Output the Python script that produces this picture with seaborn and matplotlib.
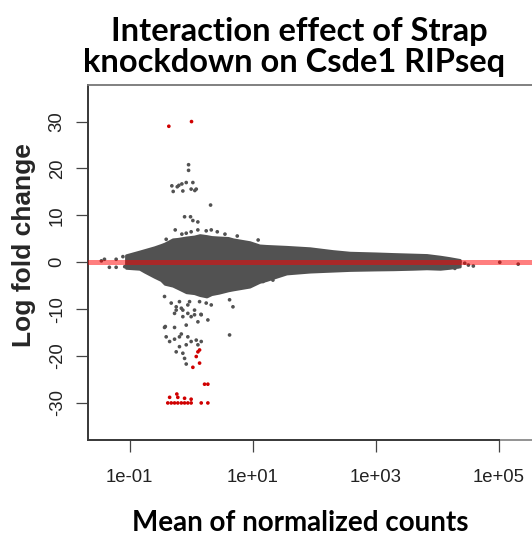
import numpy as np
import pandas as pd
import matplotlib
matplotlib.use("Agg")
import matplotlib.pyplot as plt
from matplotlib.patches import Rectangle
import seaborn as sns

# ================= DATA =================
# dense bulk of genes: envelope of the grey cloud (log10 of mean counts)
cloud_log10_mean = [-1.06, -0.95, -0.84, -0.76, -0.60, -0.49, -0.43, -0.30, -0.22, -0.08,
                    0.05, 0.14, 0.25, 0.33, 0.45, 0.60, 0.68, 0.95, 1.11, 1.22,
                    1.55, 1.93, 2.30, 2.58, 3.00, 3.29, 3.60, 3.83, 4.05, 4.20, 4.37]
cloud_upper = [1.5, 1.9, 2.3, 2.6, 3.2, 3.7, 4.0, 4.9, 5.0, 5.3,
               5.5, 5.8, 5.6, 5.4, 5.3, 5.2, 4.9, 4.3, 3.6, 3.5,
               3.3, 3.0, 2.4, 2.05, 1.9, 1.77, 1.65, 1.56, 1.2, 0.9, 0.5]
cloud_lower = [-1.2, -1.3, -1.4, -2.0, -3.1, -3.8, -4.6, -5.0, -5.5, -6.4,
               -6.6, -7.0, -7.3, -6.8, -6.5, -6.0, -5.8, -5.2, -4.2, -3.8,
               -2.4, -2.0, -1.8, -1.65, -1.55, -1.5, -1.4, -1.3, -1.4, -1.2, -0.9]

# non-significant genes outside the bulk
grey_log10_mean = [-0.042, -0.042, -0.314, -0.226, -0.151, -0.08, 0.028, -0.292, -0.135, 0.0,
                   0.083, -0.20, 0.06, 0.316, -0.107, -0.01, 0.028, 0.109, -0.259, -0.151,
                   -0.08, 0.0, 0.109, 0.245, 0.327, 0.425, -0.406, 0.55, 0.75, 1.09,
                   -0.433, -0.324, -0.19, -0.026, 0.137, 0.245, -0.243, -0.16, -0.054, 0.327,
                   -0.243, -0.135, 0.055, -0.054, -0.27, 0.055, 0.164, 0.16, -0.135, 0.0,
                   0.272, 0.11, -0.433, -0.27, -0.08, -0.42, 0.625, -0.406, -0.35, -0.27,
                   -0.19, -0.16, -0.054, 0.0, 0.083, 0.164, 0.11, -0.08, -0.19, -0.243,
                   -0.135, -0.107, -0.08, 0.625, 0.68, 1.17, 1.33,
                   -1.46, -1.41, -1.33, -1.22, -1.22, -1.11, -1.08,
                   4.29, 4.34, 4.37, 4.45, 4.51, 4.59, 5.02, 5.32]
grey_lfc = [20.8, 19.6, 16.3, 16.1, 16.7, 17.0, 17.0, 15.1, 15.2, 15.6,
            15.6, 16.4, 15.3, 12.2, 9.7, 9.7, 8.9, 8.6, 6.9, 6.0,
            6.2, 6.5, 6.9, 6.7, 6.9, 6.5, 4.9, 6.0, 5.6, 4.75,
            -7.3, -8.7, -8.4, -8.4, -8.4, -8.7, -9.5, -9.8, -9.1, -9.1,
            -10.2, -10.2, -10.2, -10.9, -10.9, -11.2, -11.2, -11.1, -11.6, -11.6,
            -12.3, -12.7, -13.9, -13.9, -13.4, -13.7, -15.5, -15.9, -16.9, -16.4,
            -15.9, -15.3, -15.9, -16.9, -16.6, -16.9, -17.6, -17.6, -18.0, -19.1,
            -19.4, -20.5, -21.7, -8.0, -9.5, -4.1, -3.8,
            0.3, 0.64, -1.07, 0.64, -1.07, 1.2, -0.94,
            -1.3, -0.9, 0.1, -0.2, -0.6, -0.8, 0.0, -0.4]

# significant genes (red)
red_log10_mean = [-0.363, 0.006,
                  0.11, 0.137, 0.083, 0.137, 0.028, 0.218, 0.272,
                  -0.38, -0.324, -0.27, -0.217, -0.16, -0.107, -0.054, 0.0, 0.164, 0.272,
                  -0.35, -0.233, -0.217, -0.107, 0.0]
red_lfc = [29.0, 30.0,
           -19.1, -18.7, -20.1, -21.5, -22.4, -26.0, -26.0,
           -30.0, -30.0, -30.0, -30.0, -30.0, -30.0, -30.0, -30.0, -30.0, -30.0,
           -28.8, -28.1, -28.8, -29.0, -29.2]

xticks = [1e-1, 1e1, 1e3, 1e5]
xtick_labels = ["1e-01", "1e+01", "1e+03", "1e+05"]
yticks = [-30, -20, -10, 0, 10, 20, 30]

GREY = "#525252"
RED = "#d00000"

# ================= PLOT =================
sns.set_style("ticks")
plt.rcParams["font.family"] = ["Liberation Sans", "DejaVu Sans"]

fig = plt.figure(figsize=(5.32, 5.4), dpi=100)
ax = fig.add_axes([88 / 532, 100 / 540, 457 / 532, 355 / 540])

cloud_x = np.power(10.0, cloud_log10_mean)
ax.fill_between(cloud_x, cloud_lower, cloud_upper, color=GREY,
                edgecolor=GREY, linewidth=2.0, zorder=1)

points = pd.DataFrame({
    "mean": np.power(10.0, grey_log10_mean + red_log10_mean),
    "lfc": grey_lfc + red_lfc,
    "sig": ["no"] * len(grey_lfc) + ["yes"] * len(red_lfc),
})
sns.scatterplot(data=points, x="mean", y="lfc", hue="sig",
                palette={"no": GREY, "yes": RED}, s=7, linewidth=0,
                legend=False, ax=ax, zorder=2)

ax.axhline(0, color="red", alpha=0.5, linewidth=3.6, zorder=4)

ax.set_xscale("log")
ax.set_xlim(0.0210, 5.7e5)
ax.set_ylim(-37.9, 37.8)
ax.set_xticks(xticks)
ax.set_xticklabels(xtick_labels)
ax.minorticks_off()
ax.set_yticks(yticks)
ax.set_yticklabels([str(v) for v in yticks], rotation=90, va="center")
ax.set_xlabel("")
ax.set_ylabel("")

ax.tick_params(axis="both", length=8.6, width=0.9, color="#444444",
               labelsize=13.3, labelcolor="#222222")
ax.tick_params(axis="x", pad=12.5)
ax.tick_params(axis="y", pad=7.5)

for side in ["top", "right"]:
    ax.spines[side].set_color("#808080")
    ax.spines[side].set_linewidth(1.2)
for side in ["left", "bottom"]:
    ax.spines[side].set_color("#3a3a3a")
    ax.spines[side].set_linewidth(1.4)
ax.spines["bottom"].set_bounds(0.0210, xticks[-1])
ax.add_patch(Rectangle((0, 0), 1, 1, transform=ax.transAxes, fill=False,
                       edgecolor="#808080", linewidth=1.2, zorder=0.5,
                       clip_on=False))

title_font = dict(family=["Lato", "DejaVu Sans"], weight="bold", color="black")
fig.text(299 / 532, 1 - 41 / 540, "Interaction effect of Strap", ha="center",
         va="baseline", fontsize=23.5, **title_font)
fig.text(294 / 532, 1 - 72 / 540, "knockdown on Csde1 RIPseq", ha="center",
         va="baseline", fontsize=23.5, **title_font)
fig.text(300 / 532, 1 - 531 / 540, "Mean of normalized counts", ha="center",
         va="baseline", fontsize=20, **title_font)
fig.text(24 / 532, 1 - 245 / 540, "Log fold change", rotation=90, ha="center",
         va="center", fontsize=19, weight="bold",
         family=["Liberation Sans", "DejaVu Sans"])

fig.savefig("out.png", dpi=100)
